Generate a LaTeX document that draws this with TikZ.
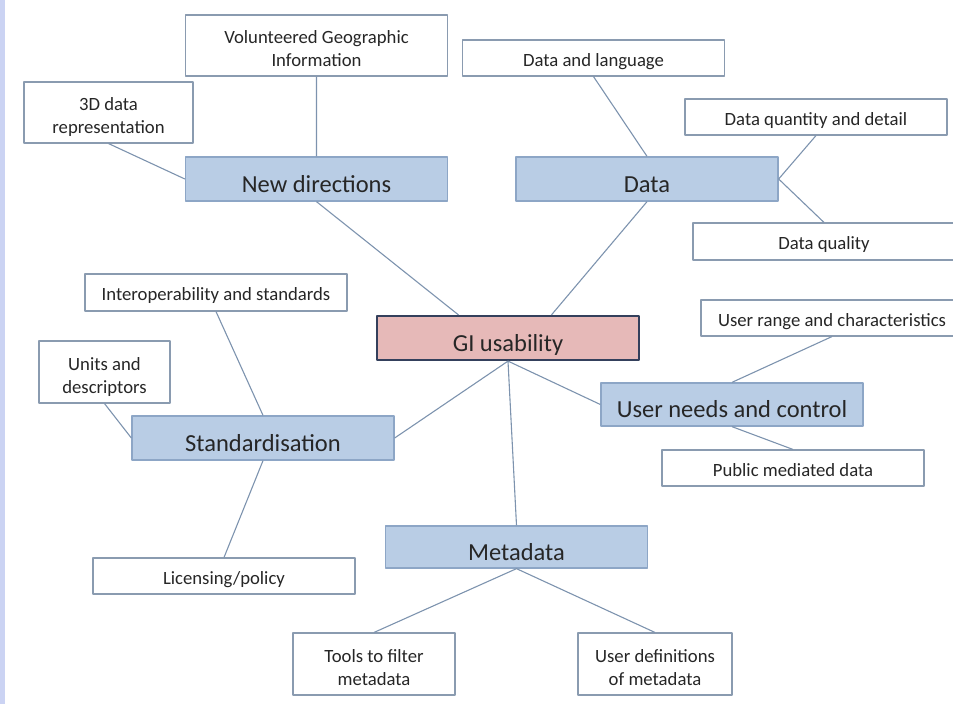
\documentclass[tikz,border=0pt]{standalone}
\usepackage{fontspec}
\setmainfont{Carlito}
\definecolor{hubfill}{HTML}{B9CDE5}
\definecolor{hubline}{HTML}{8DA6C6}
\definecolor{rootfill}{HTML}{E6B9B8}
\definecolor{rootline}{HTML}{34405C}
\definecolor{leafline}{HTML}{8A9BB0}
\definecolor{linkcol}{HTML}{7D93AE}
\definecolor{stripcol}{HTML}{CBD3F3}
\begin{document}
\begin{tikzpicture}[x=1pt,y=-1pt,line join=round,text=black!85,
hub/.style={draw=hubline,fill=hubfill,line width=1.3pt,minimum width=262pt,minimum height=44pt,inner sep=0pt,text height=26pt,text depth=0pt,font=\fontsize{24.5}{28}\selectfont},
leaf/.style={draw=leafline,fill=white,line width=1.1pt,minimum width=262pt,minimum height=36pt,inner sep=0pt,align=center,text height=16pt,text depth=0pt,font=\fontsize{18.7}{23}\selectfont},
twoline/.style={leaf,minimum height=61pt,text height=42pt},
link/.style={draw=linkcol,line width=1.1pt}]
\useasboundingbox (0,0) rectangle (953,704);
\fill[stripcol] (0,0) rectangle (5,704);
% centre and branches
\node[hub,fill=rootfill,draw=rootline,line width=2.2pt] (gi) at (508,338) {GI usability};
\node[hub] (newdir) at (316.5,179) {New directions};
\node[hub] (data) at (647,179) {Data};
\node[hub] (std) at (263,438) {Standardisation};
\node[hub,minimum height=43pt] (needs) at (732,404.5) {User needs and control};
\node[hub,minimum height=42pt] (meta) at (516.5,547) {Metadata};
% leaves
\node[twoline] (vgi) at (316.5,45.5) {Volunteered Geographic\\Information};
\node[twoline,minimum width=169pt] (threed) at (108.5,112.5) {3D data\\representation};
\node[leaf] (lang) at (593.5,58) {Data and language};
\node[leaf] (detail) at (816,117) {Data quantity and detail};
\node[leaf,minimum height=37pt] (quality) at (824,241.5) {Data quality};
\node[leaf,minimum height=37pt] (interop) at (216,292.5) {Interoperability and standards};
\node[twoline,minimum width=131pt,minimum height=62pt] (units) at (104.5,372) {Units and\\descriptors};
\node[leaf] (licence) at (224,576) {Licensing/policy};
\node[twoline,minimum width=162pt,minimum height=62pt] (tools) at (374,664) {Tools to filter\\metadata};
\node[twoline,minimum width=154pt,minimum height=62pt] (userdef) at (655,664) {User definitions\\of metadata};
\node[leaf] (range) at (832,318) {User range and characteristics};
\node[leaf] (public) at (793,468) {Public mediated data};
% connectors
\draw[link] (gi.155)--(newdir.south) (gi.28)--(data.south);
\draw[link] (gi.south)--(std.east) (gi.south)--(needs.west) (gi.south)--(meta.north);
\draw[link] (vgi.south)--(newdir.north) (threed.south)--(newdir.west);
\draw[link] (lang.south)--(data.north) (data.east)--(detail.south) (data.east)--(quality.north);
\draw[link] (interop.south)--(std.north) (units.south)--(std.west) (std.south)--(licence.north);
\draw[link] (range.south)--(needs.north) (needs.south)--(public.north);
\draw[link] (meta.south)--(tools.north) (meta.south)--(userdef.north);
\end{tikzpicture}
\end{document}
